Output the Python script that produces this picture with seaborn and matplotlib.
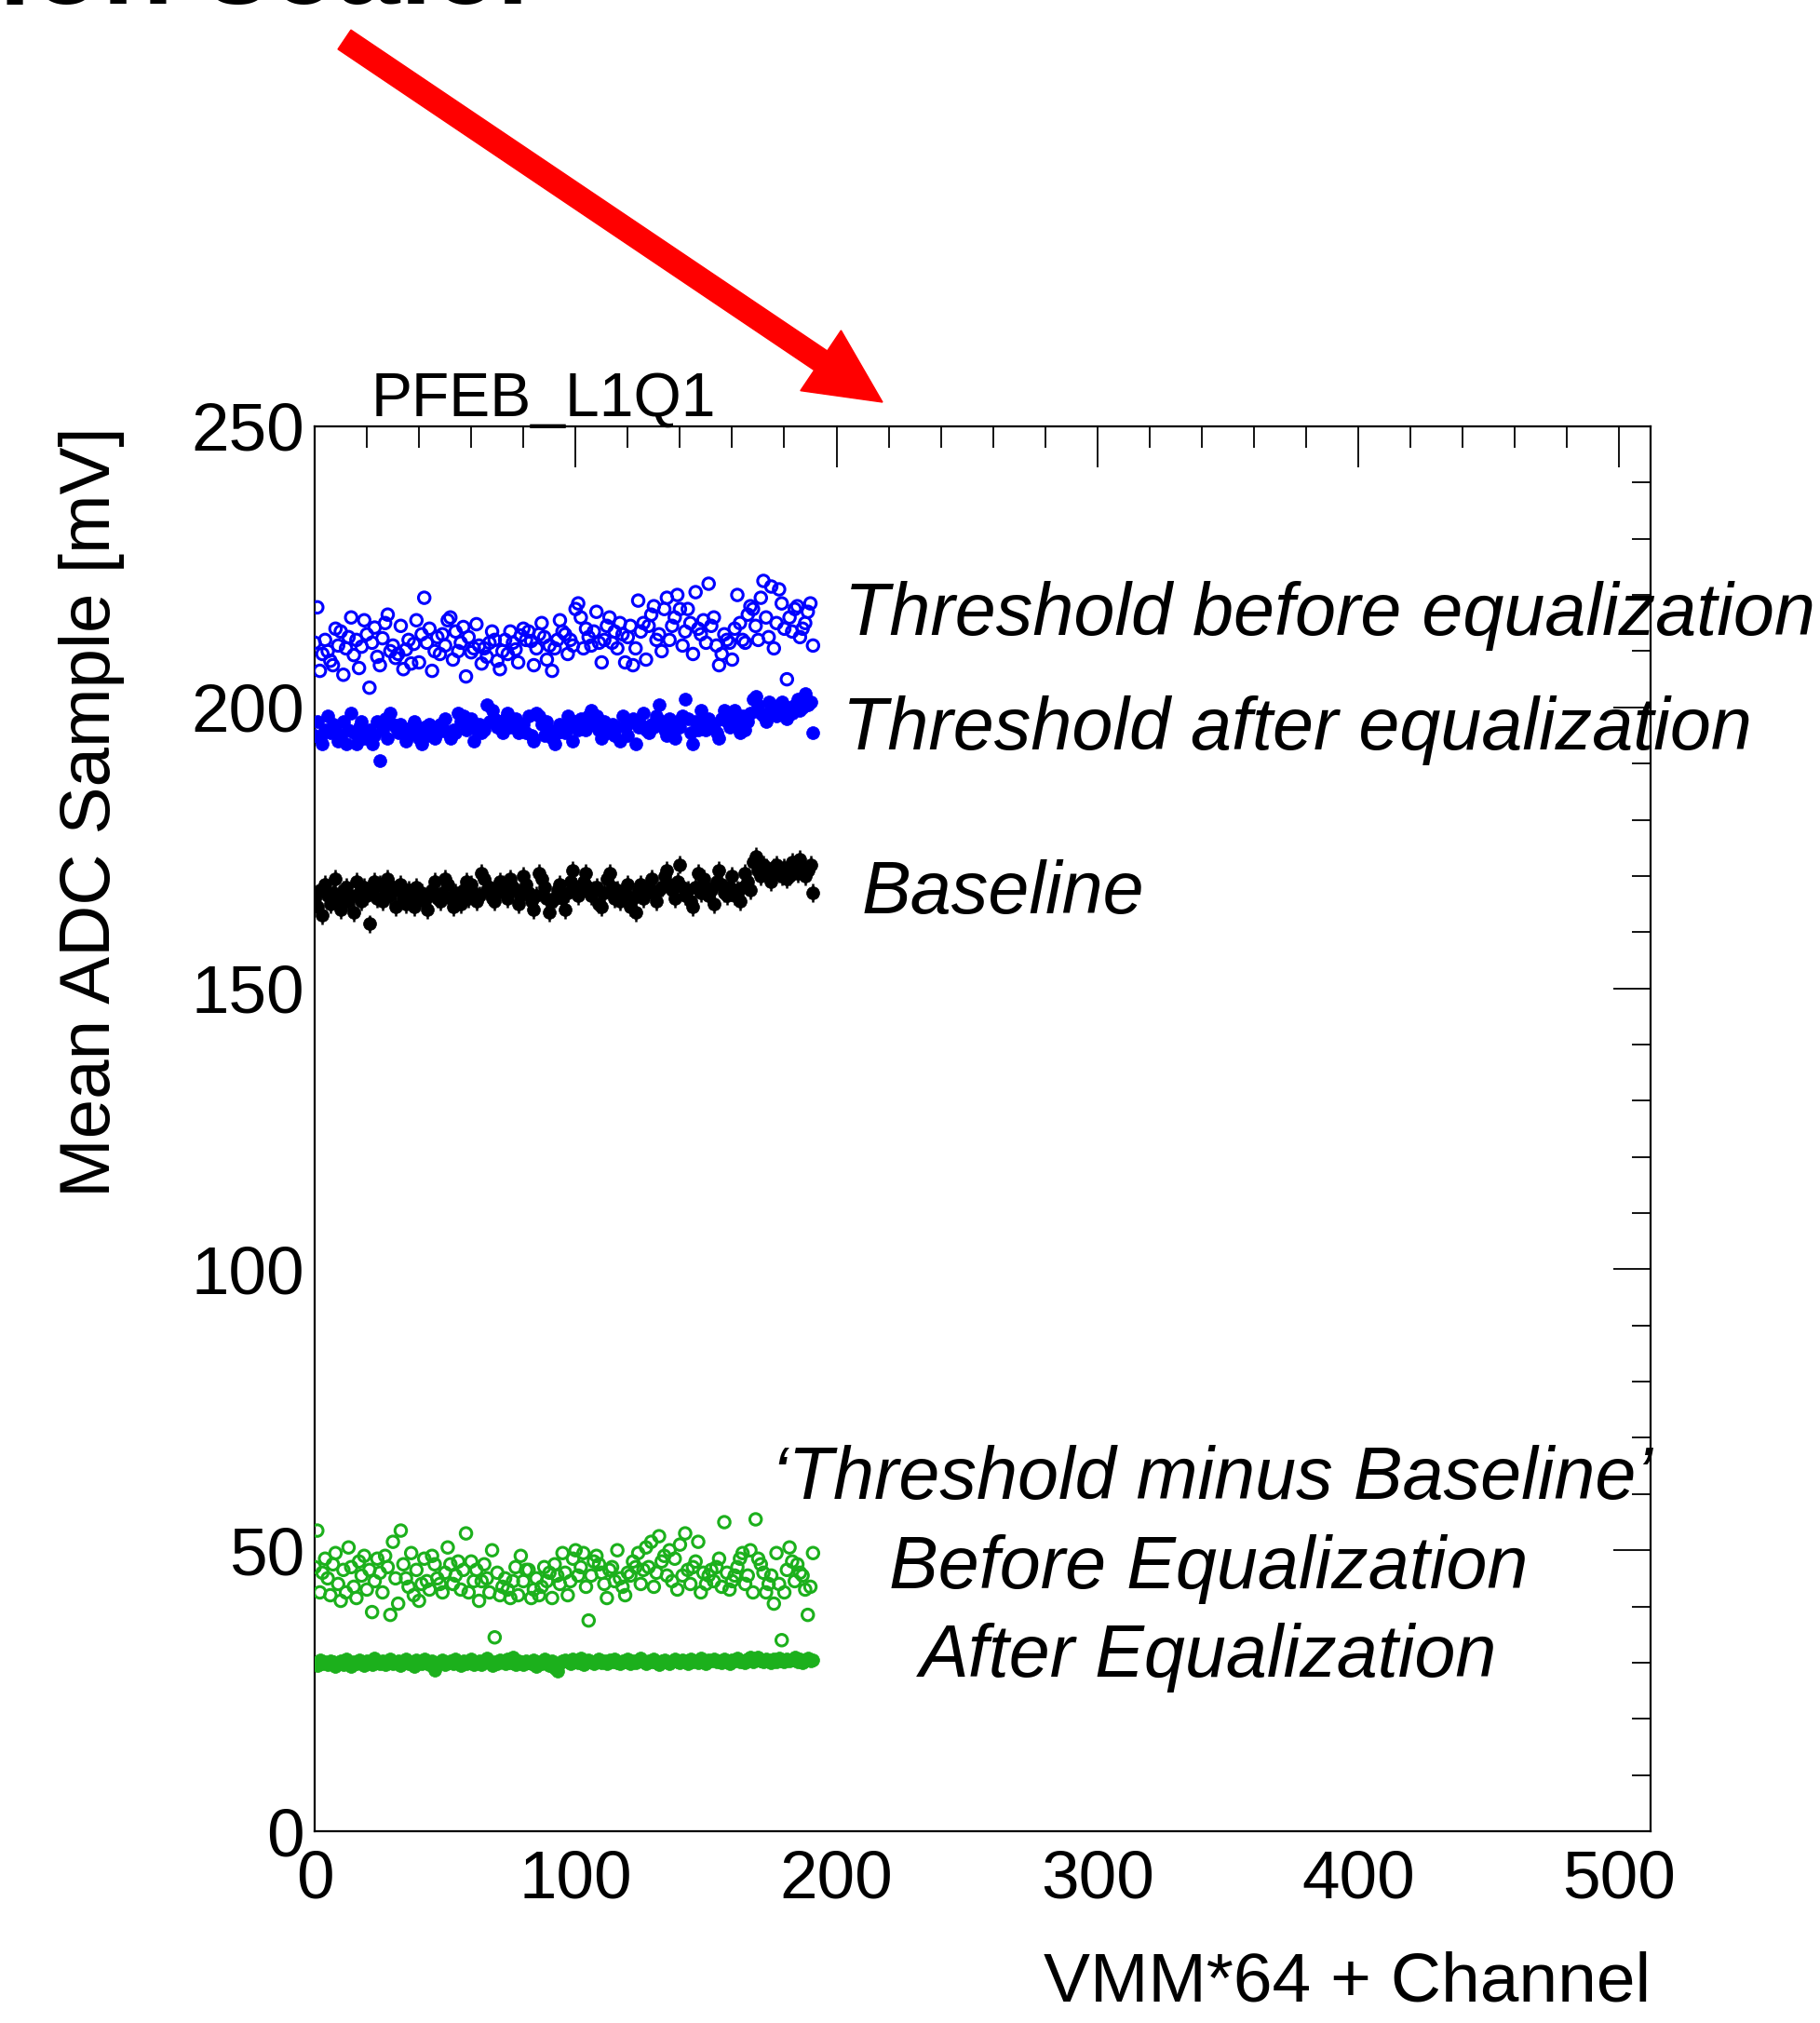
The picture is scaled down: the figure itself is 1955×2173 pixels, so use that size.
import numpy as np
import pandas as pd
import matplotlib
matplotlib.use("Agg")
import matplotlib.pyplot as plt
from matplotlib.patches import FancyArrow
from matplotlib.transforms import IdentityTransform
from matplotlib.ticker import MultipleLocator
import seaborn as sns

# ---------------- data ----------------
channels = list(range(192))

thr_before = [
    211.5, 217.8, 206.5, 209.5, 212.0, 210.0, 208.3, 207.5, 214.0, 211.0, 213.5, 205.8, 210.5, 212.5, 216.0, 209.3,
    212.0, 207.0, 210.8, 215.5, 213.0, 203.5, 211.5, 214.2, 209.0, 207.5, 212.3, 215.0, 216.5, 210.0, 211.0, 208.8,
    209.5, 214.5, 206.8, 210.3, 212.0, 207.8, 211.3, 215.5, 208.0, 213.0, 219.5, 211.5, 214.0, 206.5, 210.0, 212.5,
    209.5, 213.0, 211.0, 215.5, 216.0, 208.5, 213.5, 210.0, 211.5, 214.3, 205.5, 212.5, 209.8, 210.5, 214.8, 211.0,
    207.8, 210.5, 209.0, 211.5, 213.5, 212.0, 208.3, 206.8, 210.0, 212.0, 209.5, 213.5, 211.5, 210.3, 208.0, 212.8,
    214.0, 212.0, 213.5, 211.8, 207.5, 210.5, 213.0, 215.0, 212.5, 208.5, 211.0, 206.5, 210.5, 212.0, 215.5, 213.5,
    213.0, 209.5, 212.0, 211.0, 217.5, 218.5, 216.0, 210.5, 214.0, 212.5, 211.0, 213.5, 217.0, 211.5, 208.0, 212.0,
    214.5, 216.0, 211.5, 213.5, 210.5, 215.0, 213.0, 208.0, 212.5, 214.5, 207.5, 210.5, 219.0, 213.5, 215.0, 208.5,
    214.5, 216.5, 218.0, 212.0, 213.0, 210.0, 217.5, 219.5, 212.0, 214.5, 216.0, 220.0, 217.5, 211.0, 213.5, 217.5,
    215.0, 209.5, 220.5, 214.0, 213.0, 215.5, 211.5, 222.0, 214.5, 216.0, 211.0, 207.5, 209.5, 213.0, 212.0, 211.5,
    208.5, 214.0, 220.0, 215.0, 212.0, 211.5, 216.5, 218.0, 217.5, 214.5, 212.0, 219.5, 222.5, 216.0, 212.5, 221.5,
    210.5, 215.0, 221.0, 218.5, 214.0, 205.0, 216.0, 213.5, 217.5, 218.0, 212.5, 214.0, 215.0, 217.0, 218.5, 211.0,
]

thr_after = [
    195.0, 197.5, 194.5, 193.5, 196.0, 198.5, 195.5, 197.0, 196.5, 194.0, 195.0, 197.5, 193.5, 196.0, 199.0, 195.5,
    193.5, 196.5, 197.5, 194.5, 195.5, 196.0, 193.5, 195.0, 197.5, 190.5, 196.0, 198.0, 194.5, 199.0, 197.0, 196.5,
    195.5, 197.0, 196.0, 194.0, 195.0, 196.5, 197.5, 196.0, 194.5, 193.5, 196.5, 195.0, 197.0, 196.0, 194.5, 195.5,
    197.0, 196.5, 198.0, 195.5, 194.5, 196.0, 195.5, 199.0, 197.5, 198.5, 196.0, 196.5, 198.0, 194.0, 196.0, 197.0,
    195.5, 196.0, 200.5, 197.5, 199.5, 198.0, 196.5, 197.5, 195.5, 198.0, 199.0, 196.5, 197.5, 198.0, 195.5, 196.5,
    197.0, 195.5, 198.5, 195.0, 194.0, 199.0, 198.5, 197.0, 195.0, 197.5, 196.0, 194.5, 193.5, 195.5, 197.0, 196.5,
    195.5, 198.5, 196.5, 194.0, 197.5, 196.0, 198.0, 197.5, 196.0, 198.5, 199.5, 197.0, 198.5, 196.0, 194.5, 197.5,
    195.5, 196.0, 197.0, 195.0, 196.5, 194.0, 198.5, 196.5, 195.0, 197.5, 198.0, 193.5, 196.5, 197.0, 199.0, 196.0,
    195.5, 197.0, 196.5, 198.5, 200.5, 197.5, 196.0, 195.0, 198.0, 196.5, 194.5, 197.5, 196.5, 198.5, 201.5, 198.0,
    195.5, 193.5, 197.5, 196.0, 199.5, 197.5, 196.0, 198.0, 196.5, 197.0, 195.5, 194.5, 198.0, 199.5, 197.5, 196.5,
    198.0, 199.5, 197.0, 195.5, 198.5, 196.0, 197.5, 199.0, 201.5, 202.0, 200.5, 199.0, 198.5, 197.5, 201.0, 200.0,
    199.5, 198.5, 200.5, 201.0, 199.5, 198.0, 200.0, 199.0, 200.5, 201.5, 199.5, 200.0, 202.5, 200.5, 201.0, 195.5,
]

baseline = [
    166.0, 164.5, 167.5, 163.0, 168.5, 166.5, 165.0, 167.0, 169.5, 166.0, 164.0, 167.5, 168.0, 165.5, 166.5, 163.5,
    169.0, 167.0, 165.5, 168.0, 166.5, 161.5, 167.5, 169.0, 166.0, 168.5, 165.5, 167.0, 169.5, 166.5, 168.0, 164.5,
    167.5, 168.5, 166.0, 165.0, 167.5, 166.5, 164.5, 168.0, 166.5, 167.0, 165.5, 164.0, 166.5, 167.5, 169.0, 166.0,
    165.5, 167.0, 169.5, 168.5, 166.0, 164.5, 167.0, 166.5, 165.0, 167.5, 169.0, 166.0, 168.5, 167.0, 165.5, 166.5,
    170.5, 169.5, 167.5, 168.0, 166.0, 165.5, 167.0, 169.0, 168.5, 167.0, 166.0, 169.5, 168.0, 167.5, 165.0, 166.5,
    170.0, 168.5, 167.0, 165.5, 164.0, 166.5, 170.5, 169.5, 168.0, 166.0, 163.5, 165.5, 166.0, 167.5, 168.5, 166.0,
    164.0, 167.0, 169.0, 171.0, 168.0, 166.5, 167.5, 169.0, 170.5, 168.0, 166.5, 167.5, 168.0, 165.0, 164.5, 167.0,
    169.5, 170.5, 168.0, 166.0, 167.5, 165.5, 166.5, 167.0, 168.5, 164.5, 166.0, 163.5, 167.5, 168.5, 166.0, 167.0,
    168.0, 169.5, 167.0, 165.5, 167.5, 168.0, 170.0, 171.0, 168.5, 167.5, 166.0, 169.0, 172.0, 168.0, 166.5, 167.5,
    165.5, 164.5, 168.0, 170.5, 167.0, 169.5, 168.0, 166.5, 167.5, 165.0, 169.0, 171.0, 168.5, 167.0, 166.5, 168.0,
    170.0, 166.5, 167.5, 165.5, 168.0, 170.5, 169.0, 167.5, 172.5, 173.5, 171.0, 170.0, 172.0, 171.5, 170.5, 169.0,
    171.5, 172.0, 170.5, 170.0, 171.5, 169.5, 170.0, 172.5, 171.0, 170.5, 173.0, 171.5, 170.0, 171.0, 172.0, 167.0,
]
baseline_err = 1.6

diff_before = [
    47.0, 53.5, 42.5, 46.0, 48.5, 45.0, 42.0, 47.5, 49.5, 44.0, 41.0, 46.5, 42.5, 50.5, 47.0, 43.5,
    41.5, 48.0, 45.5, 49.0, 43.0, 46.5, 39.0, 44.5, 48.5, 46.0, 42.5, 49.0, 47.0, 38.5, 51.5, 45.0,
    40.5, 53.5, 47.5, 45.0, 43.5, 49.5, 42.0, 46.5, 41.0, 44.0, 48.5, 44.5, 43.0, 49.0, 47.5, 45.0,
    44.0, 42.5, 46.0, 50.5, 47.5, 44.0, 45.5, 48.0, 43.0, 46.5, 53.0, 42.5, 48.0, 44.5, 46.5, 41.0,
    44.5, 47.5, 45.0, 42.5, 50.0, 34.5, 46.0, 42.0, 43.5, 45.0, 43.0, 41.5, 44.5, 47.0, 42.0, 49.0,
    44.5, 46.5, 46.5, 41.5, 43.0, 45.0, 42.0, 43.5, 47.0, 44.5, 46.0, 41.5, 47.5, 45.5, 44.0, 49.5,
    46.0, 42.0, 44.5, 48.5, 50.0, 45.5, 47.0, 49.5, 43.5, 37.5, 45.5, 48.0, 49.0, 47.5, 46.0, 44.0,
    41.5, 46.5, 47.0, 44.5, 50.0, 45.0, 43.5, 42.0, 46.0, 45.5, 48.0, 47.0, 49.5, 44.0, 46.5, 50.5,
    47.0, 51.5, 43.5, 46.0, 52.5, 48.0, 49.0, 45.5, 50.0, 44.5, 48.5, 43.0, 51.0, 45.5, 53.0, 46.5,
    44.0, 47.0, 48.0, 51.5, 42.5, 46.0, 44.0, 45.5, 46.5, 44.5, 47.0, 48.5, 43.5, 55.0, 46.0, 43.0,
    44.5, 45.5, 47.0, 48.5, 49.5, 44.0, 45.5, 50.0, 42.5, 55.5, 48.5, 47.5, 46.0, 42.5, 44.0, 45.5,
    40.5, 49.5, 44.0, 34.0, 42.5, 46.5, 50.5, 48.0, 44.5, 47.5, 46.0, 45.5, 43.0, 38.5, 43.5, 49.5,
]

diff_after = [
    30.0, 29.5, 30.5, 29.8, 30.2, 29.6, 30.4, 30.1, 29.3, 29.9, 30.3, 29.7, 30.6, 30.0, 29.4, 30.2,
    29.8, 30.5, 30.1, 29.5, 30.3, 30.0, 29.6, 30.8, 30.2, 29.9, 30.4, 29.7, 30.1, 30.6, 29.8, 30.0,
    30.3, 29.5, 30.0, 30.7, 29.9, 30.2, 29.4, 30.5, 30.1, 29.8, 30.6, 30.0, 29.6, 30.3, 28.6, 29.9,
    30.2, 30.5, 29.7, 30.0, 30.4, 29.8, 30.6, 30.1, 29.5, 30.3, 29.9, 30.2, 30.7, 29.6, 30.0, 30.4,
    29.7, 30.3, 30.8, 30.0, 29.5, 30.2, 29.9, 30.5, 30.1, 29.8, 30.6, 30.0, 30.9, 29.7, 30.3, 30.1,
    29.6, 30.4, 30.0, 29.8, 30.5, 29.3, 30.2, 29.9, 30.7, 30.1, 29.5, 30.3, 29.0, 28.5, 29.8, 30.4,
    30.5, 30.1, 29.9, 30.6, 30.3, 30.0, 30.8, 29.7, 30.2, 30.5, 30.1, 29.8, 30.4, 30.6, 30.0, 30.3,
    29.9, 30.5, 30.2, 30.7, 30.0, 29.8, 30.4, 30.1, 30.6, 29.9, 30.3, 30.0, 30.5, 30.8, 30.2, 29.9,
    30.4, 30.1, 30.6, 30.0, 29.7, 30.3, 30.5, 30.1, 29.9, 30.4, 30.7, 30.2, 30.0, 30.5, 30.3, 29.8,
    30.6, 30.1, 30.4, 30.0, 30.8, 30.2, 29.9, 30.5, 30.3, 30.7, 30.1, 30.4, 30.0, 30.6, 30.2, 29.9,
    30.5, 30.3, 30.8, 30.1, 30.4, 30.0, 30.6, 30.9, 30.2, 30.5, 31.0, 30.3, 30.1, 30.7, 30.4, 30.0,
    30.6, 30.2, 30.8, 30.4, 30.1, 30.7, 30.3, 30.5, 30.9, 30.2, 30.6, 30.0, 30.4, 30.8, 30.3, 30.5,
]
diff_after_err = 0.8

x_ticks = [0, 100, 200, 300, 400, 500]
y_ticks = [0, 50, 100, 150, 200, 250]

# ---------------- figure ----------------
W, H = 1955, 2173
sns.set_theme(style="white")
plt.rcParams["font.family"] = ["Liberation Sans", "DejaVu Sans"]
plt.rcParams["text.color"] = "black"
plt.rcParams["axes.labelcolor"] = "black"
plt.rcParams["xtick.color"] = "black"
plt.rcParams["ytick.color"] = "black"

fig = plt.figure(figsize=(W / 100, H / 100), dpi=100)
ax = fig.add_axes([338 / W, 1 - 1967 / H, (1773 - 338) / W, (1967 - 458) / H])

BLUE = "#0000ff"
GREEN = "#1cb01c"

df = pd.DataFrame({
    "ch": channels,
    "thr_before": thr_before,
    "thr_after": thr_after,
    "baseline": baseline,
    "diff_before": diff_before,
    "diff_after": diff_after,
})

# error bars
ax.errorbar(df["ch"], df["baseline"], yerr=baseline_err, fmt="none",
            ecolor="black", elinewidth=1.8, zorder=2)
ax.errorbar(df["ch"], df["diff_after"], yerr=diff_after_err, fmt="none",
            ecolor=GREEN, elinewidth=1.8, zorder=2)

# open markers
for col, colr in [("thr_before", BLUE), ("diff_before", GREEN)]:
    sns.scatterplot(data=df, x="ch", y=col, ax=ax, marker="o", s=80,
                    color=colr, linewidth=2.2, zorder=3, legend=False)
    coll = ax.collections[-1]
    coll.set_facecolor("none")
    coll.set_edgecolor(colr)

# filled markers
for col, colr in [("thr_after", BLUE), ("baseline", "black"), ("diff_after", GREEN)]:
    sns.scatterplot(data=df, x="ch", y=col, ax=ax, marker="o", s=100,
                    color=colr, edgecolor=colr, linewidth=0.5, zorder=3, legend=False)

ax.set_xlim(0, 512)
ax.set_ylim(0, 250)
ax.set_xticks(x_ticks)
ax.set_yticks(y_ticks)
ax.xaxis.set_minor_locator(MultipleLocator(20))
ax.yaxis.set_minor_locator(MultipleLocator(10))

for s in ax.spines.values():
    s.set_visible(True)
    s.set_color("black")
    s.set_linewidth(1.6)

ax.tick_params(axis="both", which="both", direction="in", top=True, right=True,
               width=1.3, color="black", labelsize=52.5, labelcolor="black")
ax.tick_params(axis="x", which="major", length=32, pad=14)
ax.tick_params(axis="x", which="minor", length=16.5)
ax.tick_params(axis="y", which="major", length=29, pad=8)
ax.tick_params(axis="y", which="minor", length=14.5)

ax.set_xlabel("VMM*64 + Channel", fontsize=54, loc="right", color="black")
ax.xaxis.set_label_coords(1.0, -0.085)
ax.set_ylabel("Mean ADC Sample [mV]", fontsize=55, loc="top", color="black")
ax.yaxis.set_label_coords(-0.142, 1.0)
ax.yaxis.label.set_va("bottom")

# title
fig.text(399 / W, 1 - 447 / H, "PFEB_L1Q1", fontsize=47.5, ha="left", va="baseline",
         color="black")

# annotations
def ftxt(x, yb, s, ha="left"):
    fig.text(x / W, 1 - yb / H, s, fontsize=57, style="italic", ha=ha, va="baseline",
             color="black")

ftxt(907, 682, "Threshold before equalization")
ftxt(905, 805, "Threshold after equalization")
ftxt(926, 981, "Baseline")
ftxt(1302, 1610, "\u2018Threshold minus Baseline\u2019", ha="center")
ftxt(1298, 1706, "Before Equalization", ha="center")
ftxt(1298, 1801, "After Equalization", ha="center")

# partially visible heading at the top edge
fig.text(582 / W, 1 - 4 / H, "Equalization scaler", fontsize=90, fontweight="bold",
         ha="right", va="baseline", color="black")

# red arrow (in pixel coordinates)
x0, y0 = 370, 42.5
x1, y1 = 948, 432
arrow = FancyArrow(x0, H - y0, x1 - x0, -(y1 - y0), width=25, head_width=78,
                   head_length=80, length_includes_head=True,
                   color="#ff0000", transform=IdentityTransform())
fig.add_artist(arrow)

fig.savefig("out.png", dpi=100)
